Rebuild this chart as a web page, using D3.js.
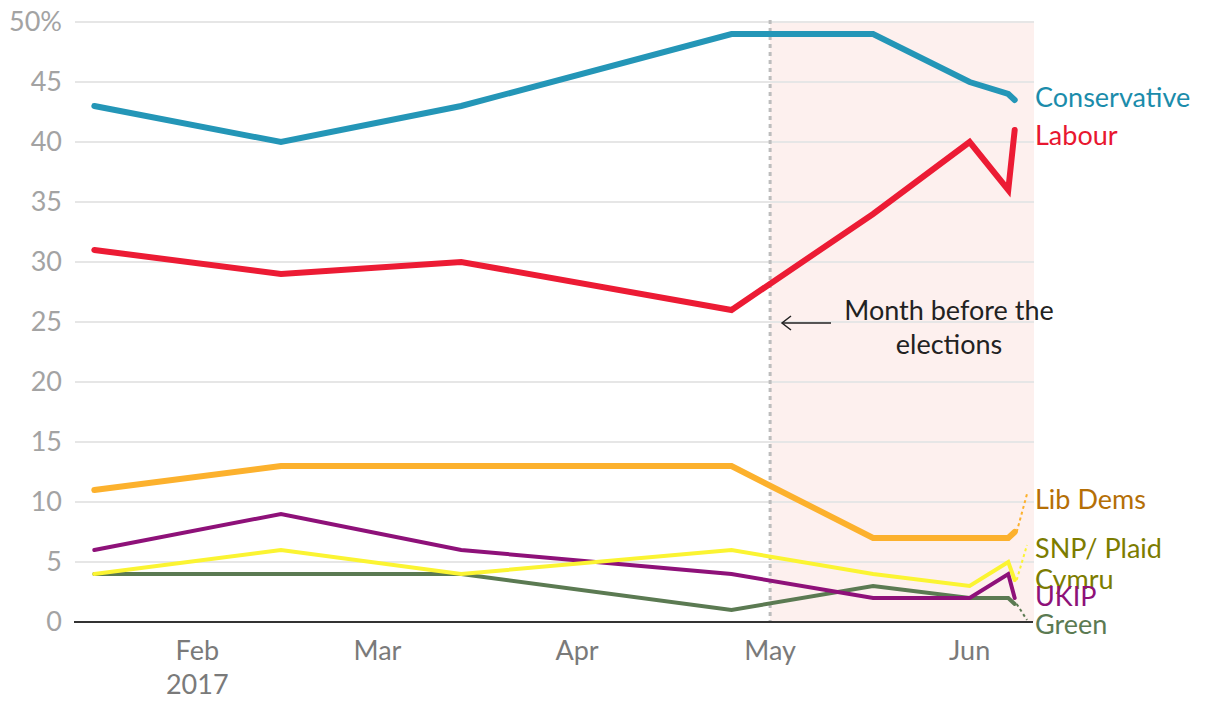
<!DOCTYPE html>
<html><head><meta charset="utf-8">
<script src="https://cdn.jsdelivr.net/npm/d3@7"></script>
<style>
html,body{margin:0;padding:0;background:#fff;}
svg{display:block;font-family:Lato,"Open Sans",sans-serif;}
</style></head>
<body><svg id="chart" width="1220" height="708"></svg>
<script>
const dates = ["2017-01-16","2017-02-14","2017-03-14","2017-04-25","2017-05-17","2017-06-01","2017-06-07","2017-06-08"];
const conservative = [43, 40, 43, 49, 49, 45, 44, 43.5];
const labour = [31, 29, 30, 26, 34, 40, 36, 41];
const libDems = [11, 13, 13, 13, 7, 7, 7, 7.5];
const snpPlaid = [4, 6, 4, 6, 4, 3, 5, 3.5];
const ukip = [6, 9, 6, 4, 2, 2, 4, 2];
const green = [4, 4, 4, 1, 3, 2, 2, 1.5];
const yTicks = [0, 5, 10, 15, 20, 25, 30, 35, 40, 45, 50];
const monthTicks = ["2017-02-01","2017-03-01","2017-04-01","2017-05-01","2017-06-01"];
const domainDates = ["2017-01-13","2017-06-11"];
const shadeStart = "2017-05-01";

const FS = 27;
const parse = d3.utcParse("%Y-%m-%d");
const svg = d3.select("#chart");
const x = d3.scaleUtc().domain(domainDates.map(parse)).range([75, 1034]);
const y = d3.scaleLinear().domain([0, 50]).range([622, 22]);

// shaded region
svg.append("rect")
  .attr("x", x(parse(shadeStart))).attr("y", y(50))
  .attr("width", x.range()[1] - x(parse(shadeStart)))
  .attr("height", y(0) - y(50))
  .attr("fill", "#fdf0ee");

// gridlines
svg.append("g").selectAll("line").data(yTicks.filter(d => d > 0)).join("line")
  .attr("x1", 75).attr("x2", 1034)
  .attr("y1", d => y(d)).attr("y2", d => y(d))
  .attr("stroke", "#e6e6e6").attr("stroke-width", 2);

// y tick labels
svg.append("g").selectAll("text").data(yTicks).join("text")
  .attr("x", 62).attr("y", d => y(d)).attr("dy", "0.35em")
  .attr("text-anchor", "end").attr("fill", "#a3a3a3")
  .attr("font-size", FS)
  .text(d => d === 50 ? "50%" : d);

// x tick labels
const xg = svg.append("g");
xg.selectAll("text").data(monthTicks).join("text")
  .attr("x", d => x(parse(d))).attr("y", 651).attr("dy", "0.35em")
  .attr("text-anchor", "middle").attr("fill", "#7a7a7a").attr("font-size", FS)
  .text(d => d3.utcFormat("%b")(parse(d)));
xg.append("text").attr("x", x(parse(monthTicks[0]))).attr("y", 685).attr("dy", "0.35em")
  .attr("text-anchor", "middle").attr("fill", "#7a7a7a").attr("font-size", FS).text("2017");

// dotted May line
svg.append("line")
  .attr("x1", x(parse(shadeStart))).attr("x2", x(parse(shadeStart)))
  .attr("y1", 20).attr("y2", y(0))
  .attr("stroke", "#bdbdbd").attr("stroke-width", 3).attr("stroke-dasharray", "4,4");

// baseline
svg.append("line").attr("x1", 74).attr("x2", 1033).attr("y1", y(0)).attr("y2", y(0))
  .attr("stroke", "#333").attr("stroke-width", 2);

const series = [
  {name: "Green", values: green, color: "#5b7a52", width: 4},
  {name: "UKIP", values: ukip, color: "#8e1179", width: 4},
  {name: "SNP", values: snpPlaid, color: "#fbf432", width: 4},
  {name: "Lib Dems", values: libDems, color: "#fcb12d", width: 6},
  {name: "Labour", values: labour, color: "#ec1b34", width: 6},
  {name: "Conservative", values: conservative, color: "#2496b7", width: 6}
];
const line = d3.line().x(d => x(d[0])).y(d => y(d[1]));
svg.append("g").selectAll("path").data(series).join("path")
  .attr("d", s => line(dates.map((d, i) => [parse(d), s.values[i]])))
  .attr("fill", "none").attr("stroke", s => s.color).attr("stroke-width", s => s.width)
  .attr("stroke-linejoin", "miter").attr("stroke-linecap", "round");

// connectors
const lastDate = parse(dates[dates.length - 1]);
const connectors = [
  {v: libDems[libDems.length - 1], ty: 494, color: "#fcb12d"},
  {v: snpPlaid[snpPlaid.length - 1], ty: 545, color: "#fbf432"},
  {v: green[green.length - 1], ty: 620, color: "#5b7a52"}
];
svg.append("g").selectAll("line").data(connectors).join("line")
  .attr("x1", x(lastDate) + 2).attr("y1", d => y(d.v))
  .attr("x2", 1027).attr("y2", d => d.ty)
  .attr("stroke", d => d.color).attr("stroke-width", 2).attr("stroke-dasharray", "3,3");

// labels
const labels = [
  {t: "Conservative", y: 98, c: "#1b8cab"},
  {t: "Labour", y: 136, c: "#e8172f"},
  {t: "Lib Dems", y: 500, c: "#b56f06"},
  {t: "SNP/ Plaid", y: 549, c: "#7c7c00"},
  {t: "Cymru", y: 580, c: "#7c7c00"},
  {t: "UKIP", y: 597, c: "#8e1179"},
  {t: "Green", y: 625, c: "#5b7a52"}
];
svg.append("g").selectAll("text").data(labels).join("text")
  .attr("x", 1035).attr("y", d => d.y).attr("dy", "0.35em")
  .attr("fill", d => d.c).attr("font-size", FS).text(d => d.t);

// annotation
const ann = svg.append("g");
ann.append("text").attr("x", 949).attr("y", 311).attr("dy", "0.35em")
  .attr("text-anchor", "middle").attr("fill", "#222").attr("font-size", FS).text("Month before the");
ann.append("text").attr("x", 949).attr("y", 345).attr("dy", "0.35em")
  .attr("text-anchor", "middle").attr("fill", "#222").attr("font-size", FS).text("elections");
ann.append("line").attr("x1", 831).attr("x2", 783).attr("y1", 323).attr("y2", 323)
  .attr("stroke", "#222").attr("stroke-width", 1.5);
ann.append("path").attr("d", "M791,316 L782,323 L791,330")
  .attr("fill", "none").attr("stroke", "#222").attr("stroke-width", 1.5);
</script></body></html>
